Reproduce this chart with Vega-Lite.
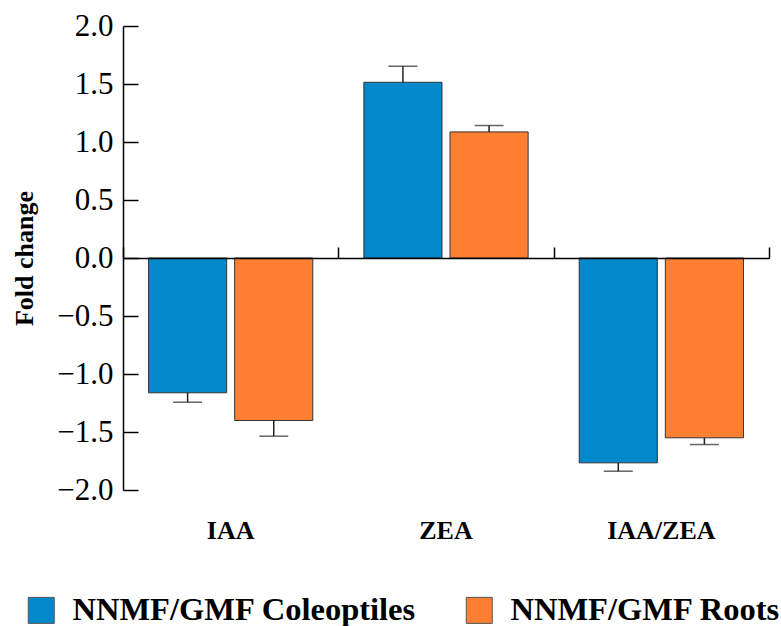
{
  "$schema": "https://vega.github.io/schema/vega-lite/v6.json",
  "width": 646,
  "height": 464,
  "autosize": "none",
  "padding": {"left": 123, "top": 26, "right": 12, "bottom": 136},
  "background": "white",
  "config": {
    "view": {"stroke": null},
    "font": "Liberation Serif",
    "axis": {"labelFont": "Liberation Serif", "titleFont": "Liberation Serif", "labelColor": "black", "titleColor": "black", "grid": false},
    "legend": {"labelFont": "Liberation Serif"}
  },
  "data": {
    "values": [
      {"hormone": "IAA", "group": "NNMF/GMF Coleoptiles", "value": -1.162, "errEnd": -1.243},
      {"hormone": "IAA", "group": "NNMF/GMF Roots", "value": -1.401, "errEnd": -1.536},
      {"hormone": "ZEA", "group": "NNMF/GMF Coleoptiles", "value": 1.515, "errEnd": 1.653},
      {"hormone": "ZEA", "group": "NNMF/GMF Roots", "value": 1.087, "errEnd": 1.142},
      {"hormone": "IAA/ZEA", "group": "NNMF/GMF Coleoptiles", "value": -1.766, "errEnd": -1.838},
      {"hormone": "IAA/ZEA", "group": "NNMF/GMF Roots", "value": -1.55, "errEnd": -1.608}
    ]
  },
  "resolve": {"axis": {"x": "independent"}},
  "layer": [
    {
      "mark": {"type": "bar", "stroke": "#333333", "strokeWidth": 1},
      "encoding": {
        "x": {
          "field": "hormone", "type": "nominal", "sort": ["IAA", "ZEA", "IAA/ZEA"],
          "scale": {"paddingInner": 0, "paddingOuter": 0},
          "axis": {"orient": "bottom", "title": null, "domain": false, "ticks": false, "labelAngle": 0, "labelPadding": 27, "labelFontSize": 26, "labelFontWeight": "bold"}
        },
        "xOffset": {
          "field": "group", "type": "nominal",
          "scale": {"paddingInner": 0.093, "paddingOuter": 0.2965}
        },
        "y": {
          "field": "value", "type": "quantitative",
          "scale": {"domain": [-2, 2], "nice": false},
          "axis": {
            "values": [-2, -1.5, -1, -0.5, 0, 0.5, 1, 1.5, 2],
            "format": ".1f",
            "domainColor": "black", "domainWidth": 1.5,
            "tickColor": "black", "tickWidth": 1.5, "tickSize": -15,
            "labelPadding": 25, "labelFontSize": 31,
            "title": "Fold change", "titleFontSize": 26, "titleFontWeight": "bold",
            "titleX": -86, "titleY": 232, "titleAngle": 270, "titleBaseline": "bottom", "titleAlign": "center"
          }
        },
        "color": {
          "field": "group", "type": "nominal",
          "scale": {"domain": ["NNMF/GMF Coleoptiles", "NNMF/GMF Roots"], "range": ["#0288cb", "#fe7f32"]},
          "legend": {
            "orient": "none", "legendX": -98, "legendY": 568, "direction": "horizontal",
            "title": null, "symbolType": "square", "symbolSize": 676,
            "symbolStrokeColor": "#555555", "symbolStrokeWidth": 1, "symbolOpacity": 1,
            "labelFontSize": 32.5, "labelFontWeight": "bold", "labelColor": "black",
            "labelOffset": 15, "columnPadding": 46, "labelLimit": 0
          }
        }
      }
    },
    {
      "mark": {"type": "rule", "color": "#222222", "strokeWidth": 1.5},
      "encoding": {
        "x": {
          "field": "hormone", "type": "nominal", "sort": ["IAA", "ZEA", "IAA/ZEA"],
          "axis": {"orient": "top", "offset": -232, "title": null, "labels": false, "tickBand": "extent", "tickSize": 11, "tickColor": "black", "tickWidth": 1.5, "domainColor": "black", "domainWidth": 1.5, "zindex": 1}
        },
        "xOffset": {"field": "group", "type": "nominal"},
        "y": {"field": "value", "type": "quantitative"},
        "y2": {"field": "errEnd"}
      }
    },
    {
      "mark": {"type": "tick", "color": "#222222", "thickness": 1.5, "size": 29, "orient": "horizontal"},
      "encoding": {
        "x": {"field": "hormone", "type": "nominal", "sort": ["IAA", "ZEA", "IAA/ZEA"], "axis": null},
        "xOffset": {"field": "group", "type": "nominal"},
        "y": {"field": "errEnd", "type": "quantitative"}
      }
    }
  ]
}
